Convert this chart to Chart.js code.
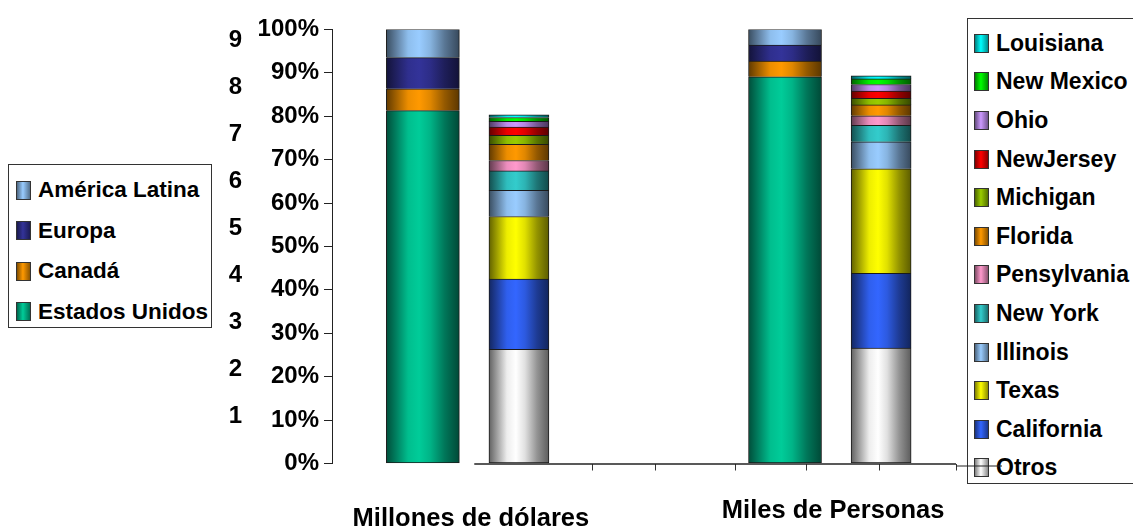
<!DOCTYPE html>
<html lang="es">
<head>
<meta charset="utf-8">
<title>Distribución por país y por estado</title>
<script src="https://cdn.jsdelivr.net/npm/chart.js@4/dist/chart.umd.min.js"></script>
<style>
  html, body { margin: 0; padding: 0; background: #fff; overflow: hidden; }
  #grafica { position: absolute; left: 0; top: 0; z-index: 2; }
  .leyenda {
    position: absolute;
    z-index: 1;
    box-sizing: border-box;
    border: 1px solid #333;
    background: #fff;
    font: bold 23px 'Liberation Sans', Arial, sans-serif;
    color: #000;
  }
  .leyenda .item { display: flex; align-items: center; white-space: nowrap; }
  .leyenda .muestra { box-sizing: border-box; width: 15px; height: 19px; border: 1px solid #333; margin-right: 7px; flex: none; }
  #leyendaPaises { left: 8px; top: 164px; width: 204px; height: 164px; padding: 5px 0 0 7px; font-size: 22.5px; }
  #leyendaPaises .item { height: 40.5px; }
  #leyendaEstados { left: 967px; top: 18px; width: 180px; height: 466px; padding: 5px 0 0 6px; }
  #leyendaEstados .item { height: 38.6px; }
</style>
</head>
<body>
<div id="leyendaPaises" class="leyenda"></div>
<div id="leyendaEstados" class="leyenda"></div>
<canvas id="grafica" width="1133" height="529"></canvas>
<script>
// ---- datos ----
const grupos = ['Millones de dólares', 'Miles de Personas'];

const paises = ['Estados Unidos', 'Canadá', 'Europa', 'América Latina'];
const estadosUnidos = [81.3, 89.1];
const canada = [5.0, 3.6];
const europa = [7.2, 3.7];
const americaLatina = [6.5, 3.6];

const estados = ['Otros', 'California', 'Texas', 'Illinois', 'New York', 'Pensylvania',
                 'Florida', 'Michigan', 'NewJersey', 'Ohio', 'New Mexico', 'Louisiana'];
const otros = [26.3, 26.6];
const california = [16.2, 17.2];
const texas = [14.4, 24.1];
const illinois = [6.0, 6.2];
const newYork = [4.5, 3.8];
const pensylvania = [2.4, 2.2];
const florida = [3.7, 2.5];
const michigan = [2.1, 1.5];
const newJersey = [1.9, 1.7];
const ohio = [1.3, 1.5];
const newMexico = [0.9, 1.3];
const louisiana = [0.6, 0.7];

const ticksPorcentaje = [0, 10, 20, 30, 40, 50, 60, 70, 80, 90, 100];
const ticksSecundario = [1, 2, 3, 4, 5, 6, 7, 8, 9];

// ---- estilo y posiciones ----
const seriesPaises = [estadosUnidos, canada, europa, americaLatina];
const coloresPaises = ['#00CC99', '#FF9900', '#333399', '#99CCFF'];
const seriesEstados = [otros, california, texas, illinois, newYork, pensylvania,
                       florida, michigan, newJersey, ohio, newMexico, louisiana];
const coloresEstados = ['#FFFFFF', '#3366FF', '#FFFF00', '#99CCFF', '#33CCCC', '#FF99CC',
                        '#FF9900', '#99CC00', '#FF0000', '#CC99FF', '#00FF00', '#00FFFF'];

const centroGrupo = [2.226, 8.03];   // sobre el eje x lineal (0..10)
const desfase = 0.77;                // distancia de cada barra al centro del grupo
const marcasX = [4.17, 5.19, 6.46, 7.6, 8.77, 10];
const inicioEje = 2.28;
const anchoPaises = 73;
const anchoEstados = 60;
const fuente = "'Liberation Sans', Arial, sans-serif";

// sombreado tipo cilindro: oscuro en los bordes, claro hacia el centro
const paradas = [[0, 0.38], [0.12, 0.6], [0.3, 0.93], [0.45, 1], [0.6, 0.88], [0.8, 0.58], [1, 0.36]];

function sombra(hex, f) {
  const n = parseInt(hex.slice(1), 16);
  const r = Math.round(((n >> 16) & 255) * f);
  const g = Math.round(((n >> 8) & 255) * f);
  const b = Math.round((n & 255) * f);
  return `rgb(${r},${g},${b})`;
}

function degradado(c, base, ancho) {
  const chart = c.chart;
  const x = chart.scales && chart.scales.x;
  if (!x || !c.raw || typeof c.raw.x !== 'number') return base;
  const cx = x.getPixelForValue(c.raw.x);
  if (!isFinite(cx)) return base;
  const g = chart.ctx.createLinearGradient(cx - ancho / 2, 0, cx + ancho / 2, 0);
  paradas.forEach(([p, f]) => g.addColorStop(p, sombra(base, f)));
  return g;
}

function degradadoCss(base) {
  return `linear-gradient(to right, ${sombra(base, 0.5)} 0%, ${base} 45%, ${sombra(base, 0.55)} 100%)`;
}

// ---- leyendas ----
function llenarLeyenda(id, nombres, colores) {
  const caja = document.getElementById(id);
  for (let i = nombres.length - 1; i >= 0; i--) {
    const fila = document.createElement('div');
    fila.className = 'item';
    const m = document.createElement('span');
    m.className = 'muestra';
    m.style.background = degradadoCss(colores[i]);
    const t = document.createElement('span');
    t.textContent = nombres[i];
    fila.appendChild(m);
    fila.appendChild(t);
    caja.appendChild(fila);
  }
}
llenarLeyenda('leyendaPaises', paises, coloresPaises);
llenarLeyenda('leyendaEstados', estados, coloresEstados);

// ---- datasets ----
const datasets = [];
paises.forEach((nombre, i) => {
  datasets.push({
    label: nombre,
    stack: 'paises',
    barThickness: anchoPaises,
    data: seriesPaises[i].map((v, g) => ({ x: centroGrupo[g] - desfase, y: v })),
    backgroundColor: c => degradado(c, coloresPaises[i], anchoPaises),
    borderColor: '#1a1a1a',
    borderWidth: 1,
    borderSkipped: i === 0 ? false : 'start'
  });
});
estados.forEach((nombre, i) => {
  datasets.push({
    label: nombre,
    stack: 'estados',
    barThickness: anchoEstados,
    data: seriesEstados[i].map((v, g) => ({ x: centroGrupo[g] + desfase, y: v })),
    backgroundColor: c => degradado(c, coloresEstados[i], anchoEstados),
    borderColor: '#1a1a1a',
    borderWidth: 1,
    borderSkipped: i === 0 ? false : 'start'
  });
});

// línea del eje horizontal (sólo bajo la parte derecha) y su prolongación
const ejeInferior = {
  id: 'ejeInferior',
  beforeDatasetsDraw(chart) {
    const { ctx, chartArea, scales: { x } } = chart;
    ctx.save();
    ctx.strokeStyle = '#222';
    ctx.lineWidth = 1.5;
    ctx.beginPath();
    ctx.moveTo(x.getPixelForValue(inicioEje), chartArea.bottom + 0.5);
    ctx.lineTo(chartArea.right, chartArea.bottom + 0.5);
    ctx.stroke();
    ctx.lineWidth = 1;
    ctx.beginPath();
    ctx.moveTo(chartArea.right, chartArea.bottom + 2.5);
    ctx.lineTo(chartArea.right + 46, chartArea.bottom + 2.5);
    ctx.stroke();
    ctx.restore();
  }
};

const ticksX = [...centroGrupo, ...marcasX].sort((a, b) => a - b);

new Chart(document.getElementById('grafica'), {
  type: 'bar',
  data: { datasets },
  plugins: [ejeInferior],
  options: {
    responsive: false,
    animation: false,
    events: [],
    layout: { padding: { left: 228, right: 177, top: 27, bottom: 0 } },
    datasets: { bar: { grouped: false } },
    plugins: {
      legend: { display: false },
      tooltip: { enabled: false }
    },
    scales: {
      x: {
        type: 'linear',
        min: 0,
        max: 10,
        offset: false,
        border: { display: false },
        grid: {
          offset: false,
          drawOnChartArea: false,
          tickLength: 7,
          color: c => (c.tick && marcasX.includes(c.tick.value)) ? '#333' : 'rgba(0,0,0,0)'
        },
        afterBuildTicks: s => { s.ticks = ticksX.map(v => ({ value: v })); },
        afterFit: s => { s.height = 65.5; s.paddingLeft = 0; s.paddingRight = 0; },
        ticks: {
          autoSkip: false,
          minRotation: 0,
          maxRotation: 0,
          padding: 26.5,
          color: '#000',
          font: c => ({
            family: fuente,
            weight: 'bold',
            size: 25.5,
            lineHeight: (c.tick && c.tick.value === centroGrupo[0]) ? 44 / 25.5 : 28 / 25.5
          }),
          callback: v => {
            const g = centroGrupo.indexOf(v);
            return g >= 0 ? grupos[g] : '';
          }
        }
      },
      y: {
        position: 'left',
        weight: 0,
        stacked: true,
        min: 0,
        max: 100,
        border: { display: true, color: '#222', width: 1 },
        grid: { drawOnChartArea: false, tickLength: 8, color: '#222' },
        afterBuildTicks: s => { s.ticks = ticksPorcentaje.map(v => ({ value: v })); },
        afterFit: s => { s.width = 75; },
        ticks: {
          padding: 5,
          color: '#000',
          font: { family: fuente, weight: 'bold', size: 24 },
          callback: v => v + '%'
        }
      },
      y2: {
        position: 'left',
        weight: 1,
        min: 0,
        max: 9.24,
        border: { display: false },
        grid: { display: false, drawTicks: false },
        afterBuildTicks: s => { s.ticks = ticksSecundario.map(v => ({ value: v })); },
        afterFit: s => { s.width = 29; },
        ticks: {
          padding: 15,
          color: '#000',
          font: { family: fuente, weight: 'bold', size: 24 }
        }
      }
    }
  }
});
</script>
</body>
</html>
